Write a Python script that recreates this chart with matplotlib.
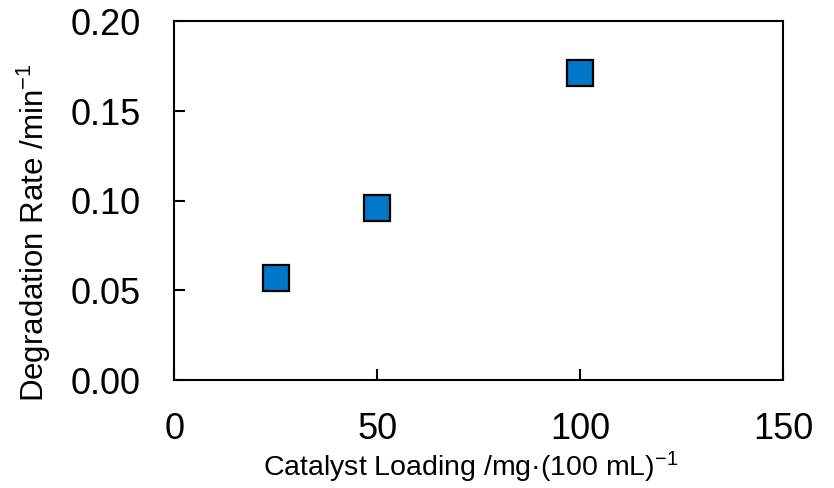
import matplotlib
matplotlib.use("Agg")
import matplotlib.pyplot as plt

# data
loading = [25, 50, 100]
rate = [0.057, 0.096, 0.171]
xticks = [0, 50, 100, 150]
yticks = [0.00, 0.05, 0.10, 0.15, 0.20]

plt.rcParams["font.family"] = ["Liberation Sans", "DejaVu Sans"]
plt.rcParams["mathtext.fontset"] = "custom"
plt.rcParams["mathtext.rm"] = "Liberation Sans"
plt.rcParams["mathtext.it"] = "Liberation Sans"

fig = plt.figure(figsize=(8.34, 4.88), dpi=100)
ax = fig.add_axes([0.209, 0.221, 0.730, 0.735])

ax.plot(loading, rate, linestyle="none", marker="s", markersize=19,
        markerfacecolor="#0077C8", markeredgecolor="black", markeredgewidth=1.6)

ax.set_xlim(0, 150)
ax.set_ylim(0, 0.20)
ax.set_xticks(xticks)
ax.set_yticks(yticks)
ax.set_yticklabels([f"{v:.2f}" for v in yticks])
ax.tick_params(direction="in", length=8, width=1.5, labelsize=26)
ax.tick_params(axis="y", pad=24)
ax.tick_params(axis="x", pad=23)
for s in ax.spines.values():
    s.set_linewidth(1.5)

ax.set_xlabel("Catalyst Loading /mg·(100 mL)$^{\u22121}$", fontsize=20.5, labelpad=2)
ax.xaxis.label.set_x(0.487)
ax.set_ylabel("Degradation Rate /min$^{\u22121}$", fontsize=22.5)
ax.yaxis.set_label_coords(-0.199, 0.412)

fig.savefig("out.png", dpi=100)
